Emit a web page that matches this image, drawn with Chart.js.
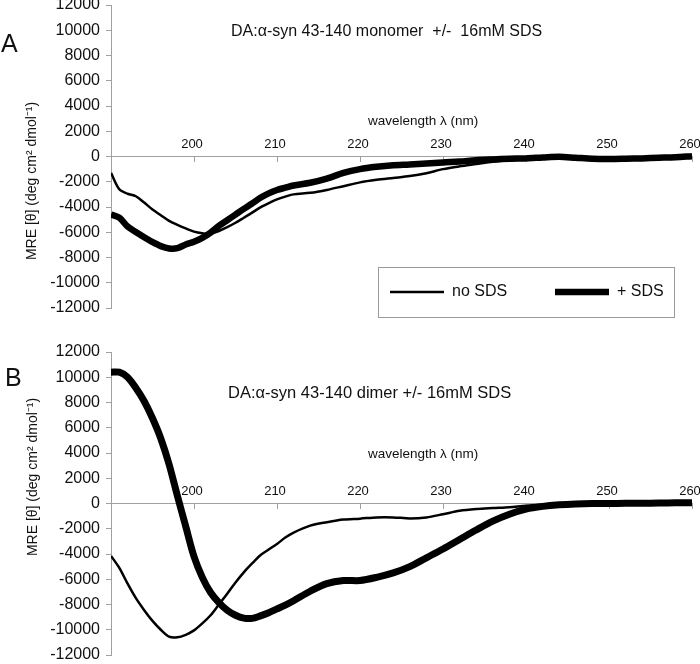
<!DOCTYPE html>
<html>
<head>
<meta charset="utf-8">
<script src="https://cdn.jsdelivr.net/npm/chart.js@4.4.1/dist/chart.umd.min.js"></script>
<style>
  body { margin: 0; background: #fff; }
  #wrap { position: relative; width: 700px; height: 664px; }
  canvas { position: absolute; left: 0; }
  #chartA { top: 0; }
  #chartB { top: 320px; }
</style>
</head>
<body>
<div id="wrap">
  <canvas id="chartA" width="700" height="320"></canvas>
  <canvas id="chartB" width="700" height="344"></canvas>
</div>
<script>
// Lunghezze d'onda (nm)
const wavelengths = [190, 191, 192, 193, 194, 195, 196, 197, 198, 199, 200, 201, 202, 203, 204, 205, 206, 207, 208, 209, 210, 211, 212,
    214, 216, 218, 220, 222, 224, 226, 228, 230, 232, 234, 236, 238, 240, 242, 244, 246, 248, 250, 252, 254, 256, 258, 260];

// A: monomero
const monomerNoSds = [-1300, -2600, -2950, -3150, -3650, -4200, -4650, -5100, -5420, -5700, -5950, -6080, -6130, -5900, -5600, -5250, -4850, -4450, -4030, -3700, -3400, -3180, -3000,
    -2880, -2650, -2350, -2050, -1850, -1700, -1550, -1320, -1000, -780, -600, -420, -300, -220, -120, -50, -80, -150, -200, -180, -150, -100, -50, 50];
const monomerSds = [-4600, -4850, -5550, -5980, -6400, -6780, -7100, -7280, -7260, -6970, -6750, -6450, -6030, -5500, -5050, -4600, -4150, -3720, -3270, -2920, -2650, -2470, -2300,
    -2080, -1750, -1300, -1000, -820, -700, -640, -560, -470, -400, -290, -230, -180, -150, -80, -20, -100, -180, -200, -180, -150, -100, -50, 30];

// B: dimero
const dimerNoSds = [-4150, -5100, -6350, -7500, -8450, -9300, -10000, -10550, -10600, -10400, -10050, -9500, -8850, -8000, -7150, -6250, -5450, -4750, -4100, -3650, -3200, -2700, -2300,
    -1750, -1480, -1270, -1200, -1100, -1100, -1180, -1100, -850, -580, -440, -360, -290, -170, -100, -50, -20, 0, 0, 10, 20, 30, 50, 50];
const dimerSds = [10400, 10400, 10000, 9150, 8100, 6750, 5150, 3100, 600, -1800, -4200, -5850, -7050, -7850, -8450, -8850, -9080, -9100, -8900, -8650, -8350, -8050, -7700,
    -6950, -6350, -6100, -6100, -5850, -5500, -5000, -4300, -3600, -2850, -2100, -1400, -850, -450, -230, -100, -30, 0, 0, 10, 20, 30, 50, 50];

const seriesLabels = ['no SDS', '+ SDS'];
const xMin = 190, xMax = 260, xStep = 10;
const yMin = -12000, yMax = 12000, yStep = 2000;

const FONT = '"Liberation Sans", Arial, sans-serif';
const AXIS_GREY = '#a0a0a0';

function points(values) {
    return wavelengths.map((w, i) => ({ x: w, y: values[i] }));
}

// Testi liberi (titoli, lettere del pannello)
function makeNotes(items) {
    return {
        id: 'notes',
        afterDraw(chart) {
            const ctx = chart.ctx;
            items.forEach(it => {
                ctx.save();
                ctx.fillStyle = '#111';
                ctx.font = it.font;
                ctx.textAlign = it.align || 'left';
                ctx.textBaseline = 'middle';
                ctx.translate(it.x, it.y);
                if (it.rotate) ctx.rotate(it.rotate);
                ctx.fillText(it.text, 0, 0);
                ctx.restore();
            });
        }
    };
}

// Legenda con riquadro, solo nel pannello A
const boxLegend = {
    id: 'boxLegend',
    afterDraw(chart) {
        const ctx = chart.ctx;
        ctx.save();
        ctx.fillStyle = '#fff';
        ctx.fillRect(378.5, 267.5, 296, 50);
        ctx.strokeStyle = '#9a9a9a';
        ctx.lineWidth = 1;
        ctx.strokeRect(378.5, 267.5, 296, 50);
        const starts = [390, 555];
        chart.data.datasets.forEach((ds, i) => {
            const x0 = starts[i];
            ctx.strokeStyle = ds.borderColor;
            ctx.lineWidth = ds.borderWidth;
            ctx.lineCap = 'butt';
            ctx.beginPath();
            ctx.moveTo(x0, 292);
            ctx.lineTo(x0 + 54, 292);
            ctx.stroke();
            ctx.fillStyle = '#111';
            ctx.font = '16px ' + FONT;
            ctx.textBaseline = 'middle';
            ctx.fillText(ds.label, x0 + 62, 292);
        });
        ctx.restore();
    }
};

function buildOptions(padTop, padBottom) {
    return {
        responsive: false,
        animation: false,
        layout: { padding: { left: 0, right: 8, top: padTop, bottom: padBottom } },
        plugins: { legend: { display: false }, tooltip: { enabled: false } },
        elements: { point: { radius: 0 } },
        scales: {
            x: {
                type: 'linear',
                min: xMin,
                max: xMax,
                position: { y: 0 },
                border: { color: AXIS_GREY, width: 1 },
                grid: {
                    drawOnChartArea: false,
                    drawTicks: true,
                    tickLength: 5,
                    color: (c) => c.tick && c.tick.value === xMin ? 'rgba(0,0,0,0)' : AXIS_GREY
                },
                ticks: {
                    stepSize: xStep,
                    padding: -25,
                    labelOffset: -2,
                    color: '#111',
                    font: { family: FONT, size: 13 },
                    maxRotation: 0,
                    callback: (v) => v === xMin ? '' : String(v)
                },
                afterFit: (s) => { s.paddingLeft = 0; s.paddingRight = 0; }
            },
            y: {
                min: yMin,
                max: yMax,
                border: { color: AXIS_GREY, width: 1 },
                grid: { drawOnChartArea: false, drawTicks: true, tickLength: 5, color: AXIS_GREY },
                ticks: {
                    stepSize: yStep,
                    padding: 6,
                    color: '#111',
                    font: { family: FONT, size: 16 },
                    callback: (v) => String(v)
                },
                afterFit: (s) => { s.width = 111; s.paddingTop = 0; s.paddingBottom = 0; }
            }
        }
    };
}

function datasets(thin, thick, thickWidth) {
    return [
        { label: seriesLabels[0], data: points(thin), borderColor: '#000', borderWidth: 2.5, tension: 0.3, fill: false },
        { label: seriesLabels[1], data: points(thick), borderColor: '#000', borderWidth: thickWidth, tension: 0.3, fill: false }
    ];
}

const yTitle = 'MRE [θ] (deg cm² dmol⁻¹)';

new Chart(document.getElementById('chartA'), {
    type: 'line',
    data: { datasets: datasets(monomerNoSds, monomerSds, 6.5) },
    options: buildOptions(5, 12),
    plugins: [boxLegend, makeNotes([
        { text: 'A', x: 1, y: 45, font: '25px ' + FONT },
        { text: 'DA:α-syn 43-140 monomer  +/-  16mM SDS', x: 231, y: 32, font: '16px ' + FONT },
        { text: 'wavelength λ (nm)', x: 368, y: 121, font: '13.5px ' + FONT },
        { text: yTitle, x: 32, y: 181, font: '14px ' + FONT, align: 'center', rotate: -Math.PI / 2 }
    ])]
});

new Chart(document.getElementById('chartB'), {
    type: 'line',
    data: { datasets: datasets(dimerNoSds, dimerSds, 7) },
    options: buildOptions(32, 9),
    plugins: [makeNotes([
        { text: 'B', x: 5, y: 59, font: '25px ' + FONT },
        { text: 'DA:α-syn 43-140 dimer +/- 16mM SDS', x: 228, y: 73, font: '16.5px ' + FONT },
        { text: 'wavelength λ (nm)', x: 368, y: 134, font: '13.5px ' + FONT },
        { text: yTitle, x: 33, y: 157, font: '14px ' + FONT, align: 'center', rotate: -Math.PI / 2 }
    ])]
});
</script>
</body>
</html>
